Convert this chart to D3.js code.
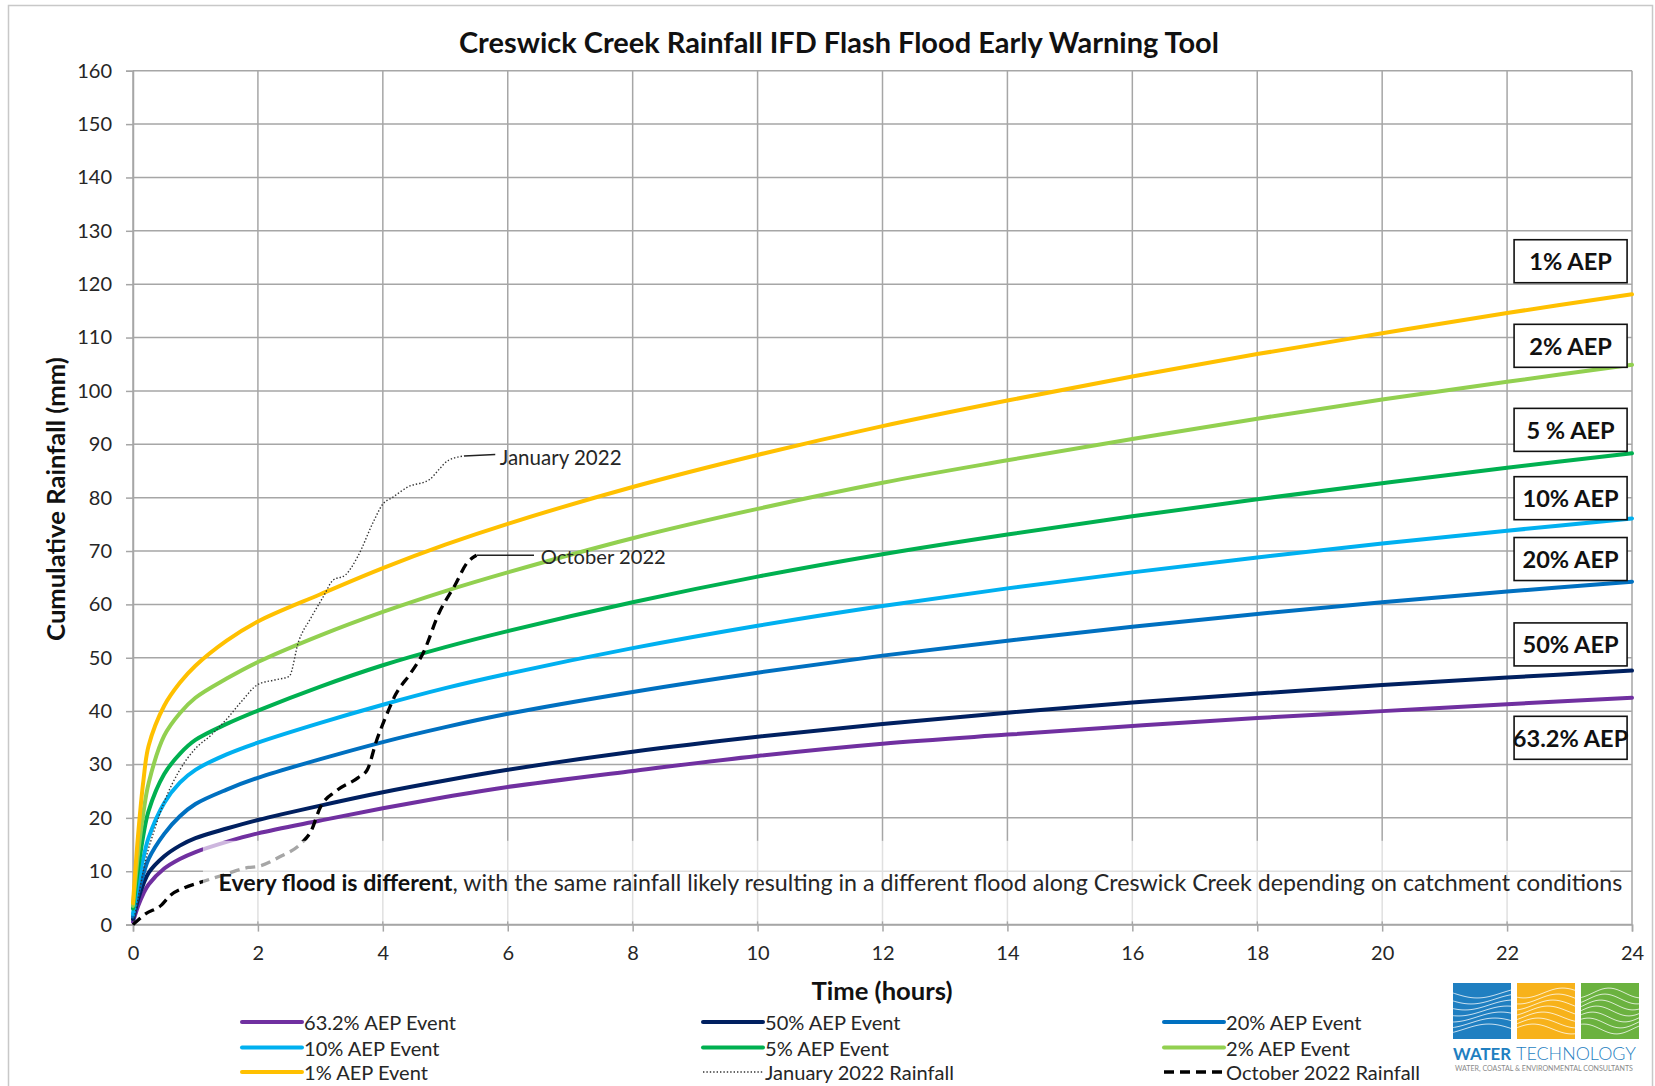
<!DOCTYPE html>
<html><head><meta charset="utf-8">
<script src="https://cdn.jsdelivr.net/npm/d3@7"></script>
<style>
body{margin:0;background:#fff;}
svg{display:block;font-family:Lato,'Open Sans',sans-serif;}
</style></head><body>
<svg id="chart" width="1655" height="1086"></svg>
<script>
// ---------------- DATA ----------------
const hours   = [0, 0.083, 0.167, 0.25, 0.5, 0.75, 1, 1.5, 2, 3, 4, 5, 6, 8, 10, 12, 14, 16, 18, 20, 22, 24];
const aep63_2 = [0.5, 3.5, 5.8, 7.5, 10.5, 12.3, 13.6, 15.5, 17.1, 19.5, 21.8, 23.9, 25.8, 28.8, 31.6, 33.9, 35.6, 37.2, 38.7, 40.0, 41.3, 42.5];
const aep50   = [1, 4.8, 7.6, 9.7, 12.8, 14.8, 16.2, 18.0, 19.6, 22.3, 24.8, 27.0, 29.0, 32.4, 35.2, 37.6, 39.7, 41.6, 43.3, 44.9, 46.3, 47.6];
const aep20   = [1.5, 6, 9.5, 12.3, 17, 20.3, 22.6, 25.3, 27.5, 31.0, 34.2, 37.0, 39.5, 43.6, 47.2, 50.4, 53.2, 55.8, 58.2, 60.4, 62.4, 64.25];
const aep10   = [2, 8, 12.5, 16.3, 22.8, 26.6, 29.0, 31.9, 34.1, 37.8, 41.2, 44.3, 47.0, 51.8, 56.0, 59.7, 63.0, 66.0, 68.8, 71.4, 73.8, 76.1];
const aep5    = [3, 10.5, 16.8, 21.3, 28.2, 32, 34.6, 37.6, 40.1, 44.6, 48.6, 52.0, 55.0, 60.4, 65.2, 69.4, 73.1, 76.5, 79.7, 82.7, 85.6, 88.3];
const aep2    = [3.5, 13.5, 21, 26.5, 35.4, 39.6, 42.5, 46.1, 49.2, 54.2, 58.6, 62.5, 66.0, 72.4, 77.9, 82.8, 87.0, 91.0, 94.8, 98.4, 101.7, 104.9];
const aep1    = [4, 17, 27, 33.5, 41, 45.3, 48.5, 53.2, 56.8, 61.9, 66.8, 71.2, 75.1, 82.0, 88.0, 93.4, 98.2, 102.7, 106.9, 110.8, 114.6, 118.1];

const jan2022Hours = [0, 0.1, 0.2, 0.35, 0.5, 0.75, 1.0, 1.25, 1.5, 1.75, 2.0, 2.25, 2.5, 2.65, 2.85, 3.05, 3.2, 3.4, 3.6, 3.85, 4.0, 4.15, 4.4, 4.75, 4.9, 5.05, 5.3];
const jan2022Rain  = [0, 6, 12, 18, 23, 29, 33, 35.5, 38.5, 42, 45, 45.8, 46.5, 53, 57.5, 61.5, 64.5, 65.5, 69, 75.5, 78.8, 80, 82, 83.4, 85.3, 87, 87.8];
const oct2022Hours = [0, 0.2, 0.45, 0.6, 0.8, 1.1, 1.45, 1.85, 2.0, 2.35, 2.7, 2.85, 3.0, 3.25, 3.6, 3.75, 3.9, 4.05, 4.2, 4.45, 4.65, 4.9, 5.15, 5.35, 5.5];
const oct2022Rain  = [0, 2, 3.6, 5.5, 6.8, 8, 9.3, 10.7, 10.9, 12.7, 15.3, 17.5, 22, 25, 27.5, 29, 34.5, 39, 43, 47.2, 51, 58.4, 63.5, 67.8, 69.2];

const yTickValues = [0, 10, 20, 30, 40, 50, 60, 70, 80, 90, 100, 110, 120, 130, 140, 150, 160];
const xTickValues = [0, 2, 4, 6, 8, 10, 12, 14, 16, 18, 20, 22, 24];

const aepBoxLabels = ['1% AEP', '2% AEP', '5 % AEP', '10% AEP', '20% AEP', '50% AEP', '63.2% AEP'];
const legendLabels = ['63.2% AEP Event', '50% AEP Event', '20% AEP Event', '10% AEP Event', '5% AEP Event', '2% AEP Event', '1% AEP Event', 'January 2022 Rainfall', 'October 2022 Rainfall'];

// ---------------- STYLE / LAYOUT ----------------
const aepColors = ['#7030A0', '#002060', '#0070C0', '#00B0F0', '#00B050', '#92D050', '#FFC000'];
const boxCenters = [124.3, 108.45, 92.7, 79.9, 68.5, 52.5, 35.0]; // label box centres (mm)
const M = {left: 133, right: 1632, top: 70.7, bottom: 924.6};
const gridColor = '#a6a6a6';
const textColor = '#262626';

const svg = d3.select('#chart');
const x = d3.scaleLinear().domain([0, 24]).range([M.left, M.right]);
const y = d3.scaleLinear().domain([0, 160]).range([M.bottom, M.top]);

function fitWidth(sel, target) {
  const fs = parseFloat(sel.attr('font-size'));
  const w = sel.node().getComputedTextLength();
  sel.attr('font-size', fs * target / w);
  return fs * target / w;
}

// outer frame
svg.append('rect').attr('x', 8.5).attr('y', 5.5).attr('width', 1644).attr('height', 1100)
  .attr('fill', '#fff').attr('stroke', '#c8c8c8').attr('stroke-width', 1.5);

// gridlines
const gGrid = svg.append('g');
gGrid.selectAll('line.h').data(yTickValues).join('line').attr('class', 'h')
  .attr('x1', M.left).attr('x2', M.right).attr('y1', d => y(d)).attr('y2', d => y(d))
  .attr('stroke', gridColor).attr('stroke-width', 1.5);
gGrid.selectAll('line.v').data(xTickValues).join('line').attr('class', 'v')
  .attr('y1', M.top).attr('y2', M.bottom).attr('x1', d => x(d)).attr('x2', d => x(d))
  .attr('stroke', gridColor).attr('stroke-width', 1.5);

// axes
const gy = svg.append('g').attr('transform', `translate(${M.left},0)`)
  .call(d3.axisLeft(y).tickValues(yTickValues).tickSize(7).tickPadding(14));
const gx = svg.append('g').attr('transform', `translate(0,${M.bottom})`)
  .call(d3.axisBottom(x).tickValues(xTickValues).tickSize(7).tickPadding(14));
[gy, gx].forEach(g => {
  g.select('.domain').attr('stroke', gridColor).attr('stroke-width', 1.5);
  g.selectAll('.tick line').attr('stroke', gridColor).attr('stroke-width', 1.5);
  g.selectAll('.tick text').attr('font-size', 20).attr('font-family', 'Lato').attr('fill', textColor);
});

// AEP series
const aepValues = [aep63_2, aep50, aep20, aep10, aep5, aep2, aep1];
const line = d3.line().x((d, i) => x(hours[i])).y(d => y(d)).curve(d3.curveCatmullRom.alpha(0.5));
const gSeries = svg.append('g');
aepValues.forEach((vals, k) => {
  gSeries.append('path').datum(vals).attr('d', line)
    .attr('fill', 'none').attr('stroke', aepColors[k]).attr('stroke-width', 4)
    .attr('stroke-linecap', 'round');
});

// observed rainfall
const janPts = jan2022Hours.map((h, i) => [h, jan2022Rain[i]]);
const octPts = oct2022Hours.map((h, i) => [h, oct2022Rain[i]]);
const obsLine = d3.line().x(d => x(d[0])).y(d => y(d[1])).curve(d3.curveMonotoneX);
svg.append('path').datum(janPts).attr('d', obsLine).attr('fill', 'none')
  .attr('stroke', '#333').attr('stroke-width', 1.4).attr('stroke-dasharray', '1.4,2');
svg.append('path').datum(octPts).attr('d', obsLine).attr('fill', 'none')
  .attr('stroke', '#000').attr('stroke-width', 3.3).attr('stroke-dasharray', '10,6');

// annotation overlay box
svg.append('rect').attr('x', x(1.12)).attr('y', y(15.7)).attr('width', x(23.65) - x(1.12))
  .attr('height', y(0.6) - y(15.7)).attr('fill', '#fff').attr('fill-opacity', 0.65);
const ann = svg.append('text').attr('x', 218.5).attr('y', 882).attr('dominant-baseline', 'central')
  .attr('font-size', 20).attr('fill', textColor);
ann.append('tspan').attr('font-weight', 'bold').attr('fill', '#111').text('Every flood is different');
ann.append('tspan').text(', with the same rainfall likely resulting in a different flood along Creswick Creek depending on catchment conditions');
fitWidth(ann, 1405);

// leader lines + labels for observed events
const janEnd = janPts[janPts.length - 1], octEnd = octPts[octPts.length - 1];
svg.append('path').attr('d', `M${x(janEnd[0])},${y(janEnd[1])}L${x(5.8)},${y(88.1)}`)
  .attr('stroke', '#222').attr('stroke-width', 1.5).attr('fill', 'none');
svg.append('path').attr('d', `M${x(octEnd[0])},${y(octEnd[1])}L${x(6.42)},${y(octEnd[1])}`)
  .attr('stroke', '#222').attr('stroke-width', 1.5).attr('fill', 'none');
const janLab = svg.append('text').attr('x', x(5.87)).attr('y', y(87.7)).attr('dominant-baseline', 'central')
  .attr('font-size', 20).attr('fill', textColor).text('January 2022');
fitWidth(janLab, 122);
const octLab = svg.append('text').attr('x', x(6.53)).attr('y', y(69.1)).attr('dominant-baseline', 'central')
  .attr('font-size', 20).attr('fill', textColor).text('October 2022');
fitWidth(octLab, 125);

// AEP label boxes
const gBoxes = svg.append('g');
aepBoxLabels.forEach((lab, k) => {
  const cy = y(boxCenters[k]);
  gBoxes.append('rect').attr('x', x(22) + 7).attr('y', cy - 21.5).attr('width', 113).attr('height', 43)
    .attr('fill', '#fff').attr('stroke', '#111').attr('stroke-width', 1.6);
});
let boxFs = 20;
aepBoxLabels.forEach((lab, k) => {
  const t = gBoxes.append('text').attr('x', x(22) + 7 + 56.5).attr('y', y(boxCenters[k]))
    .attr('text-anchor', 'middle').attr('dominant-baseline', 'central')
    .attr('font-weight', 'bold').attr('font-size', boxFs).attr('fill', '#111').text(lab);
  if (k === 0) boxFs = fitWidth(t, 82.5); else t.attr('font-size', boxFs);
});

// titles
const title = svg.append('text').attr('x', 459).attr('y', 53).attr('font-weight', 'bold')
  .attr('font-size', 28).attr('fill', '#111').text('Creswick Creek Rainfall IFD Flash Flood Early Warning Tool');
fitWidth(title, 760);
const yt = svg.append('text').attr('transform', 'translate(55,499) rotate(-90)').attr('text-anchor', 'middle')
  .attr('dominant-baseline', 'central').attr('font-weight', 'bold').attr('font-size', 22).attr('fill', '#111')
  .text('Cumulative Rainfall (mm)');
fitWidth(yt, 284);
const xt = svg.append('text').attr('x', 882).attr('y', 990).attr('text-anchor', 'middle')
  .attr('dominant-baseline', 'central').attr('font-weight', 'bold').attr('font-size', 22).attr('fill', '#111')
  .text('Time (hours)');
fitWidth(xt, 141);

// legend
const legCols = [242, 703, 1164], legRows = [1022, 1047.5, 1072];
const legStyles = aepColors.map(c => ({stroke: c, w: 4, dash: null}))
  .concat([{stroke: '#333', w: 1.4, dash: '1.4,2'}, {stroke: '#000', w: 3.3, dash: '10,6'}]);
let legFs = 20;
legendLabels.forEach((lab, k) => {
  const cx = legCols[k % 3], cy = legRows[Math.floor(k / 3)];
  const st = legStyles[k];
  svg.append('line').attr('x1', cx).attr('x2', cx + 60).attr('y1', cy).attr('y2', cy)
    .attr('stroke', st.stroke).attr('stroke-width', st.w).attr('stroke-dasharray', st.dash)
    .attr('stroke-linecap', st.dash ? 'butt' : 'round');
  const t = svg.append('text').attr('x', cx + 62).attr('y', cy).attr('dominant-baseline', 'central')
    .attr('font-size', legFs).attr('fill', textColor).text(lab);
  if (k === 0) legFs = fitWidth(t, 152); else t.attr('font-size', legFs);
});

// logo
const logo = svg.append('g');
const sq = [{x: 1453, c: '#1f7fc1'}, {x: 1517, c: '#f7b21b'}, {x: 1581, c: '#6bb23f'}];
const defs = svg.append('defs');
sq.forEach((s, i) => {
  defs.append('clipPath').attr('id', 'lc' + i).append('rect').attr('x', s.x).attr('y', 983).attr('width', 58).attr('height', 56);
  logo.append('rect').attr('x', s.x).attr('y', 983).attr('width', 58).attr('height', 56).attr('fill', s.c);
  const gw = logo.append('g').attr('clip-path', `url(#lc${i})`);
  for (let j = 0; j < 7; j++) {
    const pts = d3.range(0, 61, 3).map(u => [s.x + u, 993 + j * 6 + 5 * Math.sin((u / 58) * Math.PI * (1.2 + 0.3 * i) + j * 0.4 + i)]);
    gw.append('path').attr('d', d3.line().curve(d3.curveBasis)(pts)).attr('fill', 'none')
      .attr('stroke', '#fff').attr('stroke-opacity', 0.75).attr('stroke-width', 1);
  }
});
const lw = logo.append('text').attr('x', 1453).attr('y', 1060).attr('font-size', 20).attr('fill', '#1f7fc1')
  .attr('font-weight', 'bold').text('WATER');
fitWidth(lw, 58);
const lt = logo.append('text').attr('x', 1516).attr('y', 1060).attr('font-size', 20).attr('fill', '#1f7fc1')
  .attr('font-weight', 300).text('TECHNOLOGY');
fitWidth(lt, 120);
const ls = logo.append('text').attr('x', 1455).attr('y', 1071).attr('font-size', 6).attr('fill', '#8a8a8a')
  .text('WATER, COASTAL & ENVIRONMENTAL CONSULTANTS');
fitWidth(ls, 178);
</script>
</body></html>
